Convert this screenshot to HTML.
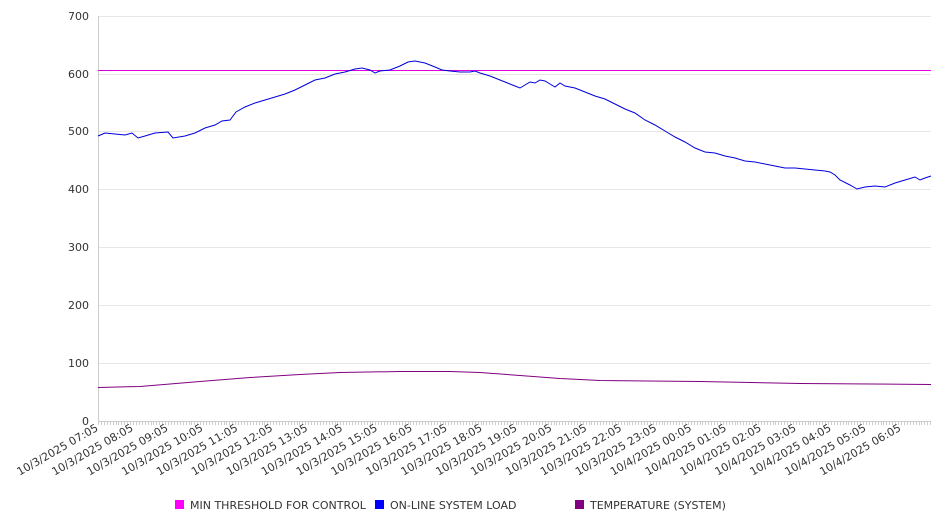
<!DOCTYPE html><html><head><style>body{margin:0;background:#fff}svg{font-family:"DejaVu Sans","Liberation Sans",sans-serif}</style></head><body>
<svg width="946" height="526" xmlns="http://www.w3.org/2000/svg">
<g stroke="#e6e6e6" stroke-width="1">
<line x1="98" x2="931" y1="16.5" y2="16.5"/><line x1="98" x2="931" y1="74.5" y2="74.5"/><line x1="98" x2="931" y1="131.5" y2="131.5"/><line x1="98" x2="931" y1="189.5" y2="189.5"/><line x1="98" x2="931" y1="247.5" y2="247.5"/><line x1="98" x2="931" y1="305.5" y2="305.5"/><line x1="98" x2="931" y1="363.5" y2="363.5"/>
</g>
<line x1="98.5" x2="98.5" y1="16" y2="421" stroke="#ccc"/>
<line x1="98" x2="931" y1="421.5" y2="421.5" stroke="#ccc"/>
<g id="ticks" stroke="#ccc"></g>
<g font-size="11" fill="#333" text-anchor="end">
<text x="89" y="20">700</text><text x="89" y="78">600</text><text x="89" y="135">500</text><text x="89" y="193">400</text><text x="89" y="251">300</text><text x="89" y="309">200</text><text x="89" y="367">100</text><text x="89" y="425">0</text>
</g>
<g id="xl" font-size="11" fill="#333" text-anchor="end"></g>
<line x1="98" x2="931" y1="70.5" y2="70.5" stroke="#dd00dd" stroke-width="1"/>
<polyline fill="none" stroke="#0000dd" stroke-width="1" points="98,136 105,133 115,134 125,135 132,133 138,138 145,136 155,133 168,132 173,138 185,136 195,133 205,128 215,125 222,121 230,120 236,112 245,107 255,103 265,100 275,97 285,94 295,90 305,85 315,80 325,78 335,74 345,72 355,69 362,68 370,70 375,73 380,71 390,70 400,66 408,62 415,61 425,63 435,67 442,70 450,71 460,72 470,72 475,71 480,73 490,76 500,80 510,84 515,86 520,88 525,85 530,82 535,83 540,80 545,81 550,84 555,87 560,83 565,86 575,88 585,92 595,96 605,99 615,104 625,109 635,113 645,120 655,125 665,131 675,137 685,142 695,148 705,152 715,153 725,156 735,158 745,161 755,162 765,164 775,166 785,168 795,168 805,169 815,170 825,171 830,172 835,175 840,180 850,185 857,189 865,187 875,186 885,187 895,183 905,180 915,177 920,180 925,178 931,176"/>
<polyline fill="none" stroke="#800080" stroke-width="1" points="98,387.5 140,386.5 200,381.5 250,377.5 300,374.5 340,372.5 400,371.5 450,371.5 480,372.5 520,375.5 560,378.5 600,380.5 700,381.5 800,383.5 931,384.5"/>
<g font-size="11" fill="#333">
<rect x="175" y="500" width="9" height="9" fill="#ff00ff"/><text x="190" y="509">MIN THRESHOLD FOR CONTROL</text>
<rect x="375" y="500" width="9" height="9" fill="#0000ff"/><text x="390" y="509">ON-LINE SYSTEM LOAD</text>
<rect x="575" y="500" width="9" height="9" fill="#800080"/><text x="590" y="509">TEMPERATURE (SYSTEM)</text>
</g>
</svg>
<script>
var t=document.getElementById('ticks'),s='';for(var x=98;x<=931;x+=2.92){s+='<line x1="'+(Math.round(x)+.5)+'" x2="'+(Math.round(x)+.5)+'" y1="421" y2="425"/>';}t.innerHTML=s;
var l=document.getElementById('xl'),h='';for(var i=0;i<24;i++){var hr=(7+i)%24,d=(7+i)>=24?'10/4/2025 ':'10/3/2025 ';var x=99+34.9*i;h+='<text transform="translate('+x+',430) rotate(-30)">'+d+(hr<10?'0':'')+hr+':05</text>';}l.innerHTML=h;
</script>
</body></html>
